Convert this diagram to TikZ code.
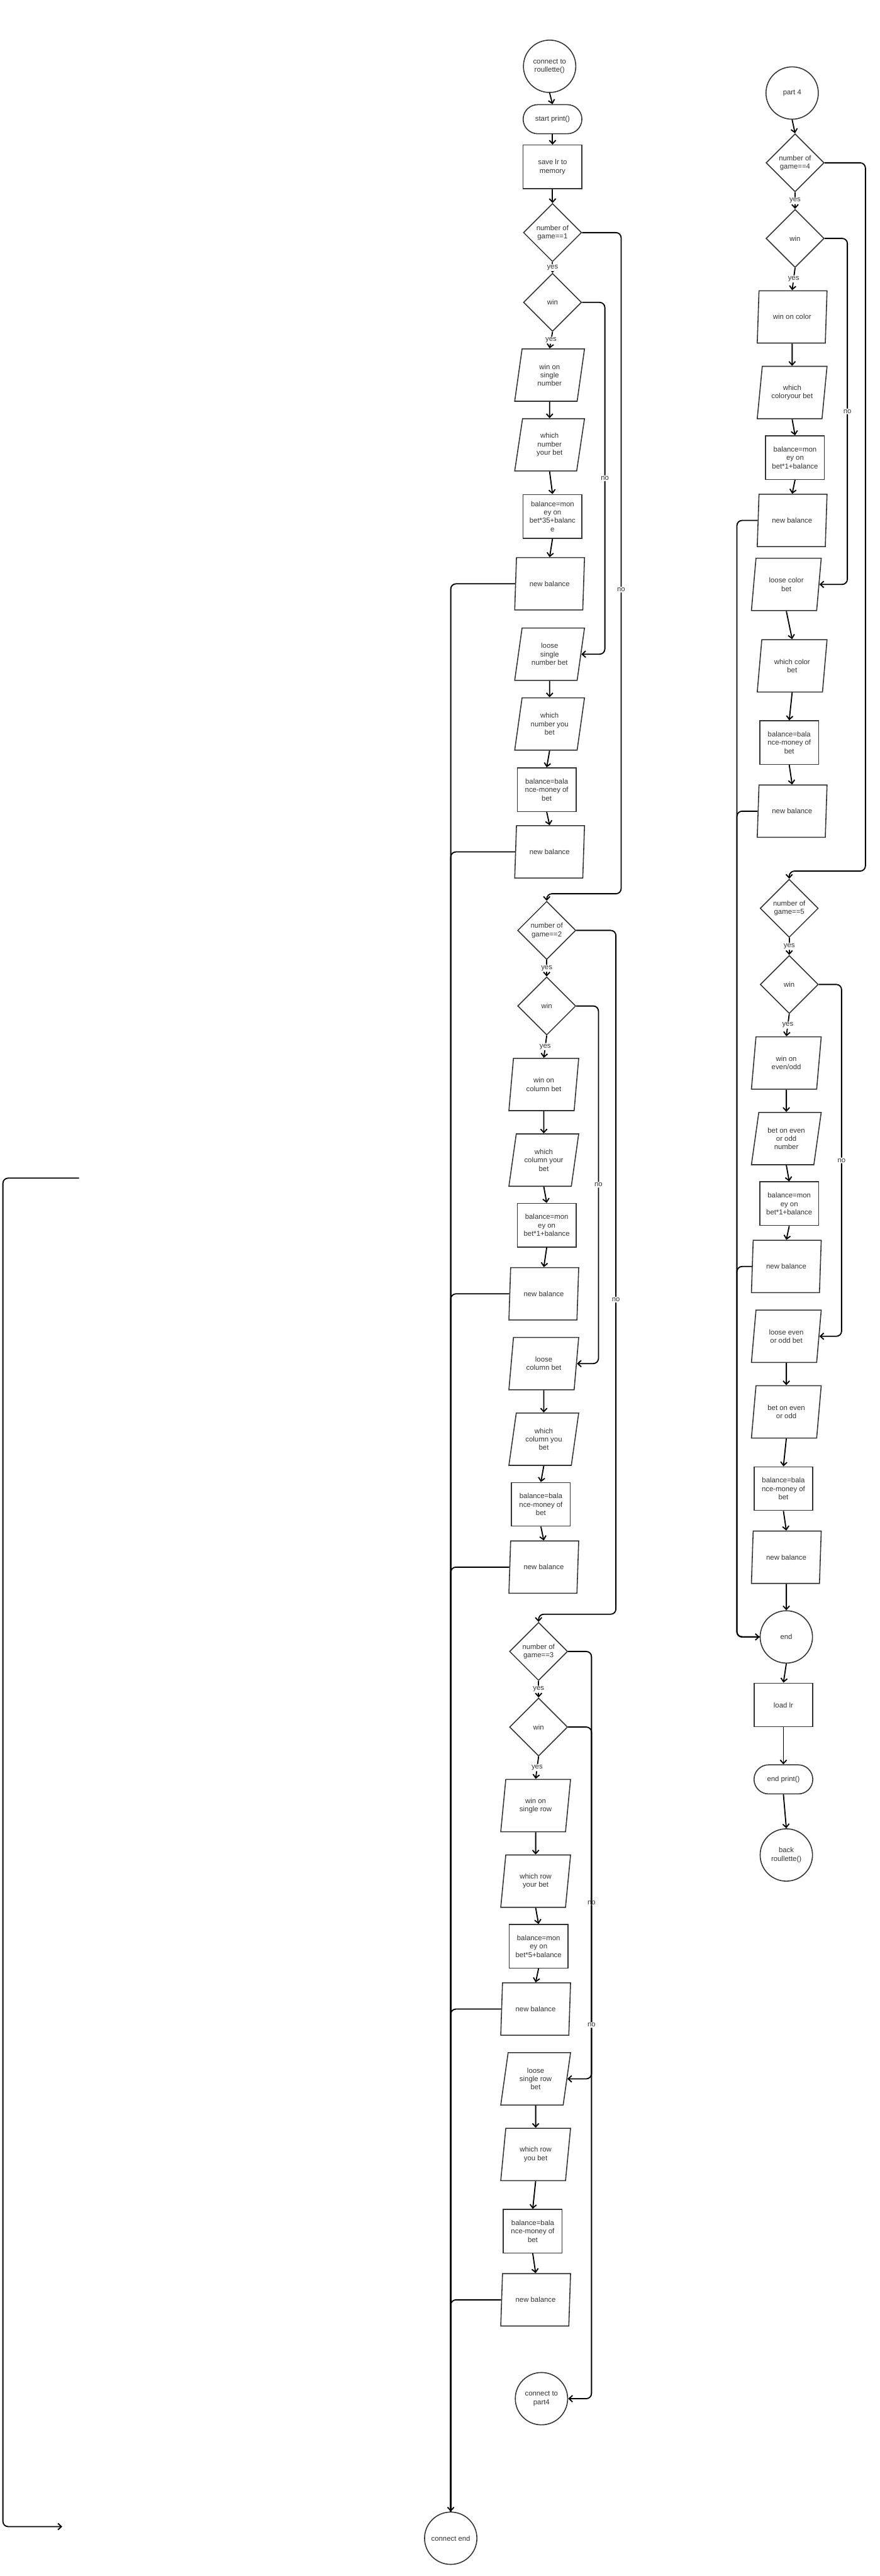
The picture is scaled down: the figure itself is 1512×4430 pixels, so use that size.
\documentclass[tikz,border=0pt]{standalone}
\usepackage{fontspec}
\setmainfont{Liberation Sans}
\usetikzlibrary{arrows.meta,shapes.geometric,calc}
\definecolor{shapecol}{HTML}{333333}
\definecolor{txtcol}{HTML}{333333}
\newcommand\dfont{\fontsize{12.3}{14.5}\selectfont}
\tikzset{
  base/.style={draw=shapecol, line width=1.7pt, text=txtcol, font=\dfont, align=center, inner sep=0pt, fill=white},
  term/.style={base, circle, minimum size=90pt},
  proc/.style={base, rectangle, minimum width=101pt, minimum height=75pt},
  rterm/.style={base, rectangle, rounded corners=25pt, minimum width=101pt, minimum height=50pt},
  dec/.style={base, diamond, minimum width=100pt, minimum height=100pt},
  io/.style={base, trapezium, trapezium left angle=71.57, trapezium right angle=108.43, trapezium stretches body, minimum width=120pt, minimum height=90pt},
  flow/.style={draw=black, line width=2pt, rounded corners=9pt, -{Straight Barb[length=6pt,width=11pt]}},
  link/.style={draw=black, line width=2pt, rounded corners=9pt},
  lab/.style={fill=white, text=txtcol, font=\dfont, inner sep=1.5pt},
}
\begin{document}
\begin{tikzpicture}[x=1pt,y=-1pt]
\useasboundingbox (0,0) rectangle (1512,4430);
\fill[white] (0,0) rectangle (1512,4430);

% ---------- column A ----------
\node[term]  (c2r)  at (945,114)  {connect to\\roullette()};
\node[rterm] (st)   at (950,205)  {start print()};
\node[proc]  (sv)   at (950,287)  {save lr to\\memory};
\node[dec]   (g1)   at (950,400)  {number of\\game==1};
\node[dec]   (w1)   at (950,520)  {win};
\node[io]    (ws1)  at (945,645)  {win on\\single\\number};
\node[io]    (wn1)  at (945,765)  {which\\number\\your bet};
\node[proc]  (b1)   at (950,888)  {balance=mon\\ey on\\bet*35+balanc\\e};
\node[io]    (nb1)  at (945,1004) {new balance};
\node[io]    (ls1)  at (945,1125) {loose\\single\\number bet};
\node[io]    (wy1)  at (945,1245) {which\\number you\\bet};
\node[proc]  (bm1)  at (940,1358) {balance=bala\\nce-money of\\bet};
\node[io]    (nb1b) at (945,1465) {new balance};

\node[dec]   (g2)   at (940,1600) {number of\\game==2};
\node[dec]   (w2)   at (940,1730) {win};
\node[io]    (wc2)  at (935,1865) {win on\\column bet};
\node[io]    (wcy2) at (935,1995) {which\\column your\\bet};
\node[proc]  (b2)   at (940,2107) {balance=mon\\ey on\\bet*1+balance};
\node[io]    (nb2)  at (935,2225) {new balance};
\node[io]    (lc2)  at (935,2345) {loose\\column bet};
\node[io]    (wcu2) at (935,2475) {which\\column you\\bet};
\node[proc]  (bm2)  at (930,2587) {balance=bala\\nce-money of\\bet};
\node[io]    (nb2b) at (935,2695) {new balance};

\node[dec]   (g3)   at (926,2840) {number of\\game==3};
\node[dec]   (w3)   at (926,2970) {win};
\node[io]    (wr3)  at (921,3105) {win on\\single row};
\node[io]    (wry3) at (921,3235) {which row\\your bet};
\node[proc]  (b3)   at (926,3347) {balance=mon\\ey on\\bet*5+balance};
\node[io]    (nb3)  at (921,3455) {new balance};
\node[io]    (lr3)  at (921,3575) {loose\\single row\\bet};
\node[io]    (wru3) at (921,3705) {which row\\you bet};
\node[proc]  (bm3)  at (916,3837) {balance=bala\\nce-money of\\bet};
\node[io]    (nb3b) at (921,3955) {new balance};
\node[term]  (cp4)  at (931,4125) {connect to\\part4};
\node[term]  (ce)   at (775,4365) {connect end};

% ---------- column B ----------
\node[term]  (p4)   at (1362,160)  {part 4};
\node[dec]   (g4)   at (1367,280)  {number of\\game==4};
\node[dec]   (w4)   at (1367,410)  {win};
\node[io]    (wc4)  at (1362,545)  {win on color};
\node[io]    (wcy4) at (1362,675)  {which\\coloryour bet};
\node[proc]  (b4)   at (1367,787)  {balance=mon\\ey on\\bet*1+balance};
\node[io]    (nb4)  at (1362,895)  {new balance};
\node[io]    (lc4)  at (1352,1005) {loose color\\bet};
\node[io]    (wcb4) at (1362,1145) {which color\\bet};
\node[proc]  (bm4)  at (1357,1277) {balance=bala\\nce-money of\\bet};
\node[io]    (nb4b) at (1362,1395) {new balance};

\node[dec]   (g5)   at (1357,1562) {number of\\game==5};
\node[dec]   (w5)   at (1357,1693) {win};
\node[io]    (weo5) at (1352,1828) {win on\\even/odd};
\node[io]    (beo5) at (1352,1958) {bet on even\\or odd\\number};
\node[proc]  (b5)   at (1357,2070) {balance=mon\\ey on\\bet*1+balance};
\node[io]    (nb5)  at (1352,2178) {new balance};
\node[io]    (le5)  at (1352,2298) {loose even\\or odd bet};
\node[io]    (bo5)  at (1352,2428) {bet on even\\or odd};
\node[proc]  (bm5)  at (1347,2560) {balance=bala\\nce-money of\\bet};
\node[io]    (nb5b) at (1352,2678) {new balance};
\node[term]  (en)   at (1352,2815) {end};
\node[proc]  (ld)   at (1347,2932) {load lr};
\node[rterm] (ep)   at (1347,3060) {end print()};
\node[term]  (br)   at (1352,3190) {back\\roullette()};

% ---------- routing coordinates ----------
\coordinate (xw1) at (1040,0);
\coordinate (k1)  at (1068,1537);
\coordinate (xw2) at (1029,0);
\coordinate (k2)  at (1059,2776);
\coordinate (xw3) at (1017,0);
\coordinate (xw4) at (1457,0);
\coordinate (k3)  at (1488,1498);
\coordinate (xw5) at (1447,0);
\coordinate (xB)  at (1267,0);
\coordinate (L1) at (136,2026);
\coordinate (L2) at (5,2026);
\coordinate (L3) at (5,4345);
\coordinate (L4) at (107,4345);

% ---------- column A connectors ----------
\draw[flow] (c2r.south) -- (st.north);
\draw[flow] (st.south) -- (sv.north);
\draw[flow] (sv.south) -- (g1.north);
\draw[flow] (g1.south) -- node[lab]{yes} (w1.north);
\draw[flow] (w1.south) -- node[lab]{yes} (ws1.north);
\draw[flow] (ws1.south) -- (wn1.north);
\draw[flow] (wn1.south) -- (b1.north);
\draw[flow] (b1.south) -- (nb1.north);
\draw[flow] (w1.east) -- (w1.east -| xw1) |- node[lab,pos=0.25]{no} (ls1.east);
\draw[flow] (ls1.south) -- (wy1.north);
\draw[flow] (wy1.south) -- (bm1.north);
\draw[flow] (bm1.south) -- (nb1b.north);
\draw[flow] (g1.east) -| node[lab,pos=0.77]{no} (k1) -| (g2.north);

\draw[flow] (g2.south) -- node[lab]{yes} (w2.north);
\draw[flow] (w2.south) -- node[lab]{yes} (wc2.north);
\draw[flow] (wc2.south) -- (wcy2.north);
\draw[flow] (wcy2.south) -- (b2.north);
\draw[flow] (b2.south) -- (nb2.north);
\draw[flow] (w2.east) -- (w2.east -| xw2) |- node[lab,pos=0.25]{no} (lc2.east);
\draw[flow] (lc2.south) -- (wcu2.north);
\draw[flow] (wcu2.south) -- (bm2.north);
\draw[flow] (bm2.south) -- (nb2b.north);
\draw[flow] (g2.east) -| node[lab,pos=0.77]{no} (k2) -| (g3.north);

\draw[flow] (g3.south) -- node[lab]{yes} (w3.north);
\draw[flow] (w3.south) -- node[lab]{yes} (wr3.north);
\draw[flow] (wr3.south) -- (wry3.north);
\draw[flow] (wry3.south) -- (b3.north);
\draw[flow] (b3.south) -- (nb3.north);
\draw[flow] (w3.east) -- (w3.east -| xw3) |- node[lab,pos=0.25]{no} (lr3.east);
\draw[flow] (lr3.south) -- (wru3.north);
\draw[flow] (wru3.south) -- (bm3.north);
\draw[flow] (bm3.south) -- (nb3b.north);
\draw[flow] (g3.east) -- (g3.east -| xw3) |- node[lab,pos=0.25]{no} (cp4.east);

% trunk to connect end
\draw[flow] (nb1.west) -| (ce.north);
\draw[link] (nb1b.west) -| (ce.north);
\draw[link] (nb2.west) -| (ce.north);
\draw[link] (nb2b.west) -| (ce.north);
\draw[link] (nb3.west) -| (ce.north);
\draw[link] (nb3b.west) -| (ce.north);

% ---------- column B connectors ----------
\draw[flow] (p4.south) -- (g4.north);
\draw[flow] (g4.south) -- node[lab]{yes} (w4.north);
\draw[flow] (w4.south) -- node[lab]{yes} (wc4.north);
\draw[flow] (wc4.south) -- (wcy4.north);
\draw[flow] (wcy4.south) -- (b4.north);
\draw[flow] (b4.south) -- (nb4.north);
\draw[flow] (w4.east) -- (w4.east -| xw4) |- node[lab,pos=0.25]{no} (lc4.east);
\draw[flow] (lc4.south) -- (wcb4.north);
\draw[flow] (wcb4.south) -- (bm4.north);
\draw[flow] (bm4.south) -- (nb4b.north);
\draw[flow] (g4.east) -| (k3) -| (g5.north);

\draw[flow] (g5.south) -- node[lab]{yes} (w5.north);
\draw[flow] (w5.south) -- node[lab]{yes} (weo5.north);
\draw[flow] (weo5.south) -- (beo5.north);
\draw[flow] (beo5.south) -- (b5.north);
\draw[flow] (b5.south) -- (nb5.north);
\draw[flow] (w5.east) -- (w5.east -| xw5) |- node[lab,pos=0.25]{no} (le5.east);
\draw[flow] (le5.south) -- (bo5.north);
\draw[flow] (bo5.south) -- (bm5.north);
\draw[flow] (bm5.south) -- (nb5b.north);
\draw[flow] (nb5b.south) -- (en.north);
\draw[flow] (en.south) -- (ld.north);
\draw[flow] (ld.south) -- (ep.north);
\draw[flow] (ep.south) -- (br.north);

% trunk to end
\draw[flow] (nb4.west) -- (nb4.west -| xB) |- (en.west);
\draw[link] (nb4b.west) -- (nb4b.west -| xB) |- (en.west);
\draw[link] (nb5.west) -- (nb5.west -| xB) |- (en.west);

% ---------- left connector ----------
\draw[flow] (L1) -- (L2) -- (L3) -- (L4);
\end{tikzpicture}
\end{document}
